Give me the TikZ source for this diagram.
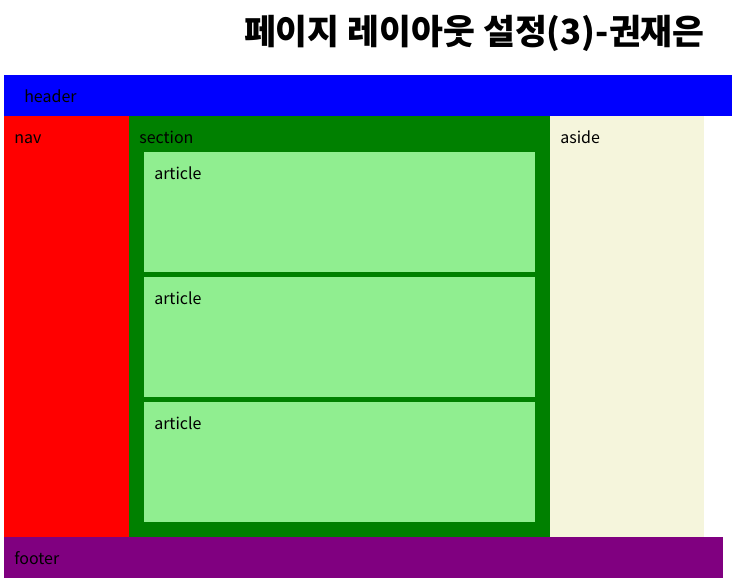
\documentclass[tikz,border=0pt]{standalone}
\usepackage{fontspec}
\setmainfont{Noto Sans CJK KR}
\usepackage{tikz}

\definecolor{headerblue}{RGB}{0,0,255}
\definecolor{navred}{RGB}{255,0,0}
\definecolor{sectiongreen}{RGB}{0,128,0}
\definecolor{articlegreen}{RGB}{144,238,144}
\definecolor{asidebeige}{RGB}{245,245,220}
\definecolor{footerpurple}{RGB}{128,0,128}

\tikzset{
    boxlabel/.style={anchor=base west, inner sep=0pt, font=\fontsize{12pt}{14pt}\selectfont}
}

\begin{document}
\begin{tikzpicture}[x=0.75pt,y=-0.75pt]
        \useasboundingbox[fill=white] (0,0) rectangle (732,584);
        % title
        \node[anchor=east, inner sep=0pt, font=\fontsize{26pt}{30pt}\selectfont\bfseries] (title) at (705,33) {페이지 레이아웃 설정(3)-권재은};
        % boxes
        \fill[headerblue] (4,75) rectangle (732,116);
        \fill[navred] (4,116) rectangle (129,537);
        \fill[sectiongreen] (129,116) rectangle (550,537);
        \fill[asidebeige] (550,116) rectangle (704,537);
        \fill[footerpurple] (4,537) rectangle (723,578);
        \foreach \t in {152,277,402}{
            \fill[articlegreen] (144,\t) rectangle (535,\t+120);
        }
        % labels
        \node[boxlabel] (header) at (24,103) {header};
        \node[boxlabel] (nav) at (14,143.5) {nav};
        \node[boxlabel] (section) at (139,143.5) {section};
        \node[boxlabel] (aside) at (560,143.5) {aside};
        \node[boxlabel] (article1) at (154,179.5) {article};
        \node[boxlabel] (article2) at (154,304.5) {article};
        \node[boxlabel] (article3) at (154,429.5) {article};
        \node[boxlabel] (footer) at (14,564.5) {footer};
    \end{tikzpicture}
\end{document}
